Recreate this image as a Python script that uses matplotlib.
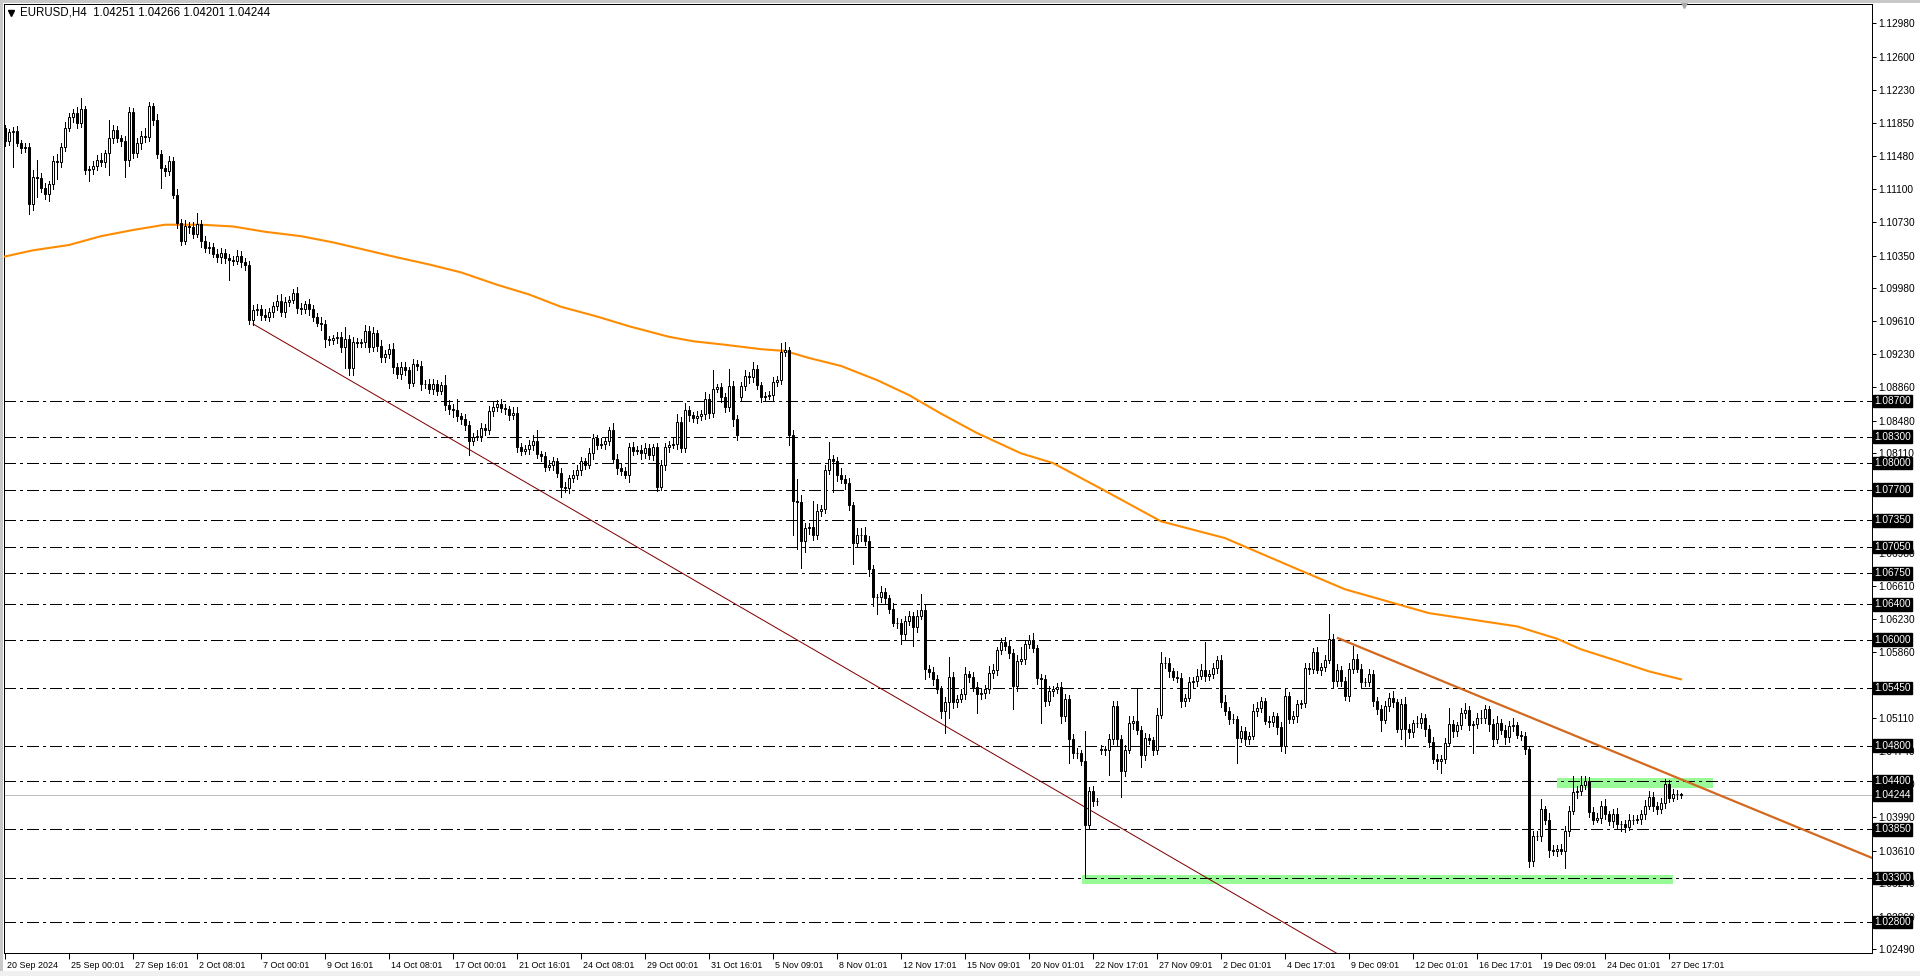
import numpy as np
import matplotlib
matplotlib.use('Agg')
import matplotlib.pyplot as plt
import matplotlib.transforms as mtransforms
from matplotlib.patches import Rectangle

plt.rcParams['font.family'] = ['Liberation Sans', 'DejaVu Sans']
plt.rcParams['lines.scale_dashes'] = False

# EURUSD H4 closes, in pips (price * 10000), one per candle
close_pips = [
    11165, 11175, 11176, 11163, 11157, 11158, 11093, 11124, 11123, 11112,
    11105, 11116, 11142, 11141, 11158, 11180, 11192, 11196, 11185, 11201,
    11132, 11133, 11137, 11143, 11141, 11151, 11168, 11177, 11168, 11165,
    11143, 11198, 11151, 11162, 11171, 11169, 11204, 11189, 11150, 11134,
    11131, 11142, 11104, 11072, 11052, 11068, 11067, 11060, 11071, 11051,
    11044, 11045, 11037, 11033, 11038, 11032, 11030, 11029, 11035, 11028,
    11024, 10962, 10973, 10975, 10968, 10966, 10971, 10978, 10984, 10971,
    10983, 10985, 10993, 10976, 10974, 10980, 10974, 10966, 10959, 10957,
    10940, 10939, 10942, 10943, 10931, 10941, 10908, 10937, 10936, 10937,
    10950, 10931, 10947, 10933, 10920, 10923, 10929, 10909, 10901, 10909,
    10905, 10891, 10912, 10910, 10889, 10890, 10884, 10889, 10882, 10888,
    10866, 10861, 10860, 10853, 10850, 10843, 10825, 10830, 10831, 10840,
    10837, 10859, 10864, 10867, 10862, 10861, 10854, 10857, 10818, 10814,
    10816, 10820, 10825, 10810, 10808, 10796, 10798, 10802, 10789, 10773,
    10772, 10783, 10787, 10792, 10802, 10798, 10811, 10828, 10821, 10822,
    10825, 10837, 10805, 10794, 10791, 10787, 10818, 10814, 10815, 10811,
    10817, 10809, 10818, 10773, 10798, 10818, 10821, 10822, 10847, 10817,
    10860, 10854, 10851, 10853, 10855, 10873, 10857, 10884, 10886, 10875,
    10863, 10887, 10850, 10832, 10887, 10899, 10897, 10906, 10888, 10875,
    10876, 10877, 10892, 10894, 10926, 10928, 10832, 10757, 10756, 10712,
    10726, 10727, 10718, 10746, 10748, 10792, 10805, 10802, 10786, 10782,
    10777, 10752, 10710, 10718, 10719, 10712, 10680, 10648, 10648, 10654,
    10647, 10635, 10619, 10619, 10606, 10621, 10627, 10614, 10627, 10634,
    10567, 10563, 10555, 10544, 10519, 10529, 10558, 10529, 10533, 10538,
    10561, 10558, 10546, 10538, 10540, 10544, 10562, 10566, 10588, 10597,
    10593, 10585, 10547, 10576, 10578, 10595, 10599, 10590, 10556, 10555,
    10530, 10542, 10544, 10546, 10513, 10533, 10487, 10472, 10471, 10462,
    10390, 10428, 10417, 10417, 10476, 10475, 10487, 10525, 10487, 10451,
    10475, 10505, 10508, 10498, 10469, 10488, 10486, 10475, 10515, 10573,
    10574, 10564, 10558, 10557, 10530, 10534, 10552, 10553, 10559, 10566,
    10559, 10561, 10568, 10577, 10529, 10519, 10510, 10510, 10489, 10496,
    10487, 10491, 10519, 10523, 10530, 10508, 10507, 10513, 10501, 10480,
    10536, 10510, 10513, 10527, 10528, 10568, 10567, 10586, 10566, 10569,
    10577, 10601, 10553, 10566, 10553, 10536, 10567, 10578, 10567, 10552,
    10552, 10561, 10531, 10521, 10509, 10525, 10534, 10529, 10499, 10527,
    10499, 10495, 10505, 10506, 10511, 10499, 10484, 10465, 10463, 10465,
    10483, 10504, 10496, 10503, 10517, 10520, 10503, 10504, 10511, 10511,
    10521, 10504, 10487, 10506, 10498, 10490, 10502, 10503, 10492, 10491,
    10476, 10349, 10377, 10378, 10408, 10396, 10362, 10361, 10363, 10361,
    10383, 10406, 10427, 10429, 10435, 10440, 10405, 10396, 10398, 10412,
    10402, 10394, 10403, 10391, 10391, 10388, 10396, 10396, 10397, 10402,
    10412, 10422, 10412, 10408, 10415, 10437, 10421, 10425, 10425.1, 10424.4,
]
first_open = 11179
gap_opens = {184: 10875, 274: 10475}   # monday gaps

wick_up = [
    4, 3, 5, 6, 3, 4, 5, 8, 19, 6,   5, 4, 6, 8, 5, 6, 4, 5, 7, 12,
    4, 3, 5, 6, 8, 4, 21, 6, 5, 4,   6, 5, 4, 6, 5, 8, 5, 4, 6, 5,
    4, 6, 5, 6, 4, 7, 5, 6, 12, 4,   6, 5, 4, 5, 6, 4, 5, 4, 6, 5,
    4, 5, 6, 5, 4, 6, 5, 4, 6, 7,    5, 4, 4, 6, 5, 4, 6, 5, 4, 6,
    5, 4, 3, 5, 6, 13, 4, 6, 5, 4,   6, 5, 7, 4, 6, 5, 6, 7, 4, 6,
    5, 4, 6, 5, 6, 4, 5, 6, 5, 4,    12, 5, 6, 12, 4, 6, 5, 4, 6, 5,
    4, 6, 5, 4, 6, 5, 4, 6, 6, 5,    4, 6, 7, 12, 4, 5, 6, 5, 4, 5,
    6, 4, 5, 6, 5, 4, 6, 5, 4, 6,    5, 4, 8, 5, 6, 4, 5, 6, 4, 5,
    6, 5, 4, 5, 6, 5, 4, 6, 8, 5,    8, 5, 4, 6, 5, 8, 5, 21, 4, 5,
    4, 19, 6, 4, 5, 6, 4, 9, 5, 4,   4, 5, 6, 5, 10, 9, 4, 6, 25, 8,
    6, 5, 30, 8, 5, 6, 19, 4, 5, 8,  5, 6, 4, 8, 7, 8, 5, 4, 4, 7,
    5, 4, 6, 5, 4, 6, 5, 4, 6, 18,   5, 4, 6, 5, 4, 6, 22, 5, 4, 6,
    8, 4, 5, 6, 4, 5, 8, 6, 4, 5,    6, 5, 4, 6, 14, 5, 6, 9, 4, 5,
    5, 6, 4, 5, 6, 5, 4, 6, 5, 4,    35, 5, 6, 4, 5, 4, 6, 5, 6, 5,
    6, 8, 5, 36, 4, 6, 5, 4, 8, 13,  6, 5, 4, 6, 5, 4, 6, 5, 8, 6,
    31, 5, 6, 4, 6, 8, 5, 6, 4, 6,   5, 4, 8, 6, 5, 4, 6, 5, 4, 6,
    8, 5, 6, 5, 4, 6, 5, 4, 6, 5,    6, 28, 5, 6, 4, 5, 6, 15, 6, 5,
    4, 6, 5, 4, 5, 6, 5, 8, 4, 6,    8, 5, 4, 8, 6, 5, 4, 6, 5, 4,
    6, 19, 5, 4, 6, 8, 5, 4, 6, 9,   5, 4, 6, 8, 4, 5, 6, 8, 4, 5,
    4, 3, 6, 5, 12, 4, 8, 5, 4, 6,   6, 5, 19, 5, 11, 6, 4, 5, 6, 5,
    8, 4, 5, 6, 4, 5, 6, 5, 4, 5,    6, 7, 5, 4, 6, 5, 4, 6, 5, 1.5,
]
wick_dn = [
    6, 5, 40, 4, 6, 5, 11, 6, 22, 5,  6, 8, 5, 19, 6, 5, 4, 6, 5, 4,
    5, 12, 6, 5, 4, 6, 25, 5, 4, 6,   19, 6, 5, 4, 6, 5, 4, 6, 5, 22,
    6, 5, 4, 6, 5, 4, 6, 5, 4, 6,     5, 6, 4, 5, 6, 5, 23, 5, 4, 6,
    5, 4, 6, 5, 6, 4, 5, 6, 5, 4,     6, 5, 4, 6, 5, 4, 6, 5, 4, 6,
    8, 5, 4, 6, 5, 23, 8, 8, 5, 4,    6, 5, 4, 6, 5, 6, 4, 7, 5, 6,
    5, 6, 4, 5, 6, 4, 5, 6, 5, 4,     6, 5, 8, 5, 6, 5, 16, 5, 4, 6,
    5, 4, 6, 5, 4, 6, 5, 4, 6, 5,     4, 6, 5, 4, 6, 5, 4, 6, 5, 12,
    5, 6, 4, 5, 6, 5, 4, 6, 5, 4,     6, 5, 4, 6, 5, 4, 8, 5, 4, 6,
    5, 4, 6, 5, 4, 6, 5, 4, 6, 5,     4, 6, 5, 6, 4, 5, 6, 5, 4, 6,
    5, 4, 8, 6, 5, 4, 6, 5, 4, 6,     5, 4, 6, 5, 4, 5, 12, 39, 53, 31,
    13, 6, 5, 4, 6, 5, 4, 35, 6, 5,   6, 5, 24, 4, 6, 5, 8, 10, 19, 5,
    6, 5, 4, 6, 11, 5, 4, 21, 5, 4,   12, 5, 6, 4, 8, 25, 18, 6, 5, 4,
    5, 6, 4, 21, 5, 6, 4, 5, 6, 4,    5, 6, 26, 5, 4, 6, 5, 4, 6, 49,
    5, 4, 6, 5, 8, 5, 27, 6, 5, 4,    60, 5, 6, 4, 5, 6, 28, 5, 6, 29,
    5, 4, 6, 5, 13, 5, 4, 6, 5, 4,    5, 6, 4, 5, 6, 5, 4, 6, 5, 4,
    6, 5, 4, 6, 5, 4, 6, 5, 29, 5,    6, 5, 4, 6, 5, 4, 6, 5, 8, 6,
    9, 5, 4, 6, 5, 4, 6, 5, 4, 6,     5, 4, 8, 6, 5, 4, 6, 5, 4, 6,
    5, 4, 6, 5, 12, 4, 6, 5, 4, 12,   19, 6, 5, 4, 6, 8, 6, 5, 10, 14,
    5, 4, 6, 5, 4, 6, 5, 31, 4, 6,    5, 8, 6, 4, 5, 8, 6, 5, 4, 5,
    6, 7, 5, 4, 6, 5, 8, 5, 6, 4,     20, 5, 4, 6, 5, 4, 6, 5, 3, 6,
    5, 4, 6, 5, 8, 6, 4, 5, 4, 6,     5, 4, 6, 5, 4, 6, 5, 4, 5, 4.3,
]

# moving average, read at selected candles
ma_idx = [0, 7, 16, 24, 32, 40, 49, 57, 65, 74, 82, 98, 106, 114, 123, 131, 139,
          148, 156, 166, 172, 180, 189, 195, 201, 209, 218, 226, 234, 243, 254,
          262, 274, 289, 305, 323, 335, 356, 378, 388, 394, 403, 411, 419]
ma_pips = [11034, 11041, 11047, 11057, 11064, 11070, 11070, 11068, 11062, 11057,
           11050, 11033, 11025, 11016, 11002, 10991, 10977, 10966, 10955, 10943,
           10938, 10934, 10929, 10927, 10919, 10910, 10894, 10877, 10856, 10834,
           10811, 10800, 10771, 10734, 10715, 10680, 10657, 10630, 10615, 10601,
           10589, 10576, 10564, 10555]

levels = [1.0870, 1.0830, 1.0800, 1.0770, 1.0735, 1.0705, 1.0675, 1.0640,
          1.0600, 1.0545, 1.0480, 1.0440, 1.0385, 1.0330, 1.0280]
bid = 1.04244

# scale labels that stay visible next to the level boxes
ytick_vals = [1.12980, 1.12600, 1.12230, 1.11850, 1.11480, 1.11100, 1.10730,
              1.10350, 1.09980, 1.09610, 1.09230, 1.08860, 1.08480, 1.08110,
              1.06980, 1.06610, 1.06230, 1.05860,
              1.05110, 1.04740, 1.04360, 1.03990, 1.03610, 1.03240, 1.02860,
              1.02490]
xtick_labels = ["20 Sep 2024", "25 Sep 00:01", "27 Sep 16:01", "2 Oct 08:01",
                "7 Oct 00:01", "9 Oct 16:01", "14 Oct 08:01", "17 Oct 00:01",
                "21 Oct 16:01", "24 Oct 08:01", "29 Oct 00:01", "31 Oct 16:01",
                "5 Nov 09:01", "8 Nov 01:01", "12 Nov 17:01", "15 Nov 09:01",
                "20 Nov 01:01", "22 Nov 17:01", "27 Nov 09:01", "2 Dec 01:01",
                "4 Dec 17:01", "9 Dec 09:01", "12 Dec 01:01", "16 Dec 17:01",
                "19 Dec 09:01", "24 Dec 01:01", "27 Dec 17:01"]

red_trend = [(62, 1.09576), (300.5, 1.0330)]
orange_trend = [(333.25, 1.06017), (466.75, 1.03527)]
zones = [(269.25, 417.0, 1.03232, 1.03334), (388.0, 427.0, 1.04323, 1.04437)]

# ---- build ohlc
c = np.array(close_pips, dtype=float)
n = len(c)
o = np.empty(n)
o[0] = first_open
o[1:] = c[:-1]
for k, v in gap_opens.items():
    o[k] = v
hi = (np.maximum(o, c) + np.array(wick_up)) / 10000
lo = (np.minimum(o, c) - np.array(wick_dn)) / 10000
o = o / 10000
c = c / 10000
x = np.arange(n)

W, H = 1920, 976
fig = plt.figure(figsize=(W / 100, H / 100), dpi=100, facecolor='white')
ax = fig.add_axes([4 / W, (H - 953) / H, (1872 - 4) / W, (953 - 4) / H])
ax.set_facecolor('white')
ax.set_xlim(-0.25, 466.75)
ax.set_ylim(1.0245, 1.1320)
px = 0.72  # one pixel in points

for x0, x1, y0, y1 in zones:
    ax.add_patch(Rectangle((x0, y0), x1 - x0, y1 - y0, facecolor='#98FB98',
                           edgecolor='none', zorder=1))

for lv in levels:
    ax.axhline(lv, color='black', lw=px, linestyle=(0, (8.6, 2.9, 1.5, 2.9)),
               antialiased=False, zorder=2)
ax.axhline(bid, color='#C0C0C0', lw=px, zorder=2)

# trend lines
(ax1_, ay1), (ax2_, ay2) = red_trend
slope = (ay2 - ay1) / (ax2_ - ax1_)
ax.plot([ax1_, 466.75], [ay1, ay1 + slope * (466.75 - ax1_)], color='#800000',
        lw=px, zorder=3)
ax.plot([p[0] for p in orange_trend], [p[1] for p in orange_trend],
        color='#D2691E', lw=1.6, zorder=3)

ax.plot(ma_idx, np.array(ma_pips) / 10000, color='#FF8C00', lw=1.5, zorder=3)

# candles
ax.vlines(x, lo, hi, color='black', lw=px, antialiased=False, zorder=5)
bull = c >= o
ax.bar(x, np.abs(c - o), bottom=np.minimum(o, c), width=0.5,
       color=np.where(bull, 'white', 'black'), edgecolor='black',
       linewidth=px, zorder=6)

# axes styling
for s in ax.spines.values():
    s.set_linewidth(px)
    s.set_color('black')
ax.yaxis.tick_right()
ax.set_yticks(ytick_vals)
ax.set_yticklabels(['%.5f' % v for v in ytick_vals])
ax.tick_params(axis='y', direction='out', length=3, width=px, pad=1.5,
               labelsize=7.3, colors='black')
ax.set_xticks(np.arange(len(xtick_labels)) * 16)
ax.set_xticklabels(xtick_labels)
ax.tick_params(axis='x', direction='out', length=4, width=px, pad=1.5,
               labelsize=6.4, colors='black')
shift = mtransforms.ScaledTranslation(2 / 100, 0, fig.dpi_scale_trans)
for lab in ax.get_xticklabels():
    lab.set_horizontalalignment('left')
    lab.set_transform(lab.get_transform() + shift)

# price boxes on the right scale
yt = mtransforms.blended_transform_factory(ax.transAxes, ax.transData)
for lv in levels + [bid]:
    txt = '%.5f' % lv
    ax.text(1.0012, lv, txt, transform=yt, color='white', fontsize=7.3,
            va='center', ha='left', clip_on=False, zorder=10,
            bbox=dict(boxstyle='square,pad=0.12', fc='black', ec='black'))

# chart shift marker
xt = mtransforms.blended_transform_factory(ax.transData, ax.transAxes)
ax.plot([419.75], [1.0], marker='v', markersize=6, color='#A8A8A8',
        transform=xt, clip_on=False, zorder=10)

# header
fig.text(20 / W, 1 - 12.5 / H, 'EURUSD,H4  1.04251 1.04266 1.04201 1.04244',
         fontsize=8.3, va='center', ha='left')
fig.add_artist(plt.Line2D([11 / W], [1 - 12.5 / H], marker='v', markersize=4.5,
                          color='black', transform=fig.transFigure))

# window frame
fig.add_artist(Rectangle((0, 1 - 3 / H), 1, 3 / H, transform=fig.transFigure,
                         facecolor='#C8C8C8', edgecolor='none'))
fig.add_artist(Rectangle((0, 0), 3 / W, 1, transform=fig.transFigure,
                         facecolor='#C8C8C8', edgecolor='none'))
fig.add_artist(Rectangle((0, 0), 1, 5 / H, transform=fig.transFigure,
                         facecolor='#F0F0F0', edgecolor='none'))

fig.savefig('out.png', dpi=100, facecolor='white')
